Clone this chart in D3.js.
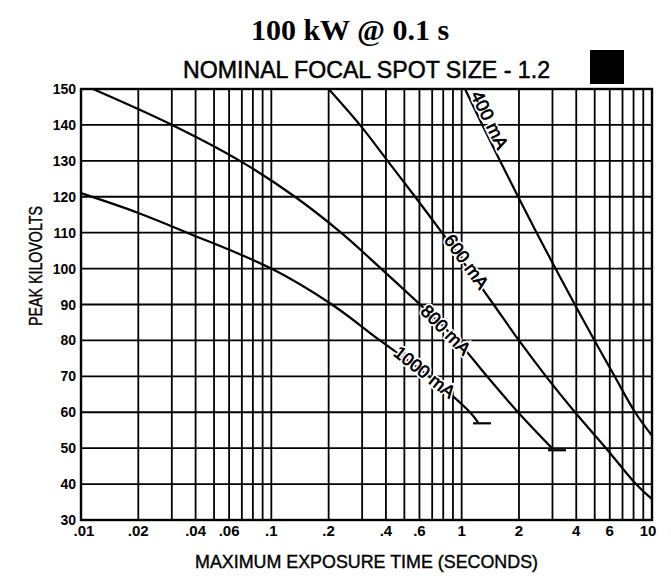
<!DOCTYPE html>
<html>
<head>
<meta charset="utf-8">
<script src="https://cdnjs.cloudflare.com/ajax/libs/d3/7.8.5/d3.min.js"></script>
<style>
  body { margin: 0; background: #fff; }
  svg { display: block; }
</style>
</head>
<body>
<div id="container"></div>
<script>
// ******* Values *******
var yTicks = [30, 40, 50, 60, 70, 80, 90, 100, 110, 120, 130, 140, 150];
var xTickValues = [0.01, 0.02, 0.04, 0.06, 0.1, 0.2, 0.4, 0.6, 1, 2, 4, 6, 10];
var xTickLabels = [".01", ".02", ".04", ".06", ".1", ".2", ".4", ".6", "1", "2", "4", "6", "10"];

var curveNames = ["400 mA", "600 mA", "800 mA", "1000 mA"];

// exposure time (s) and peak kV along each curve
var time400 = [1.041, 1.284, 1.59, 1.98, 2.476, 3.112, 3.93, 4.988, 6.361, 8.152, 10];
var kv400   = [150, 140, 130, 120, 110, 100, 90, 80, 70, 60, 53.5];
var time600 = [0.2, 0.292, 0.408, 0.569, 0.788, 1.08, 1.471, 2.0, 2.774, 3.94, 5.733, 8.24, 10];
var kv600   = [150, 140, 130, 120, 110, 100, 90, 80, 70, 60, 50, 40, 35.8];
var time800 = [0.01156, 0.0301, 0.0684, 0.1331, 0.2323, 0.377, 0.604, 0.945, 1.359, 1.977, 3.02];
var kv800   = [150, 140, 130, 120, 110, 100, 90, 80, 70, 60, 49.7];
var time1000 = [0.01, 0.02, 0.0361, 0.1, 0.208, 0.372, 0.674, 1.106, 1.218];
var kv1000   = [121, 115.5, 110, 100, 90, 80, 70, 60, 57.2];

var labelKv = [140.3, 101.5, 83, 71];        // where each curve label sits
var endMarker = [false, false, true, true];   // short bar at curve end

var title = "100 kW @ 0.1 s";
var subtitle = "NOMINAL FOCAL SPOT SIZE - 1.2";
var yTitle = "PEAK KILOVOLTS";
var xTitle = "MAXIMUM EXPOSURE TIME (SECONDS)";

// ******* Layout *******
var width = 671, height = 576;
var plotLeft = 81, plotRight = 652, plotTop = 89, plotBottom = 520;
var sans = "'Liberation Sans', Arial, Helvetica, sans-serif";

var svg = d3.select("#container").append("svg")
  .attr("width", width)
  .attr("height", height)
  .style("background", "#fff");

var x = d3.scaleLog().domain([0.01, 10]).range([plotLeft, plotRight]);
var y = d3.scaleLinear().domain([30, 150]).range([plotBottom, plotTop]);

// ******* Grid *******
var grid = svg.append("g").attr("stroke", "#000").attr("stroke-width", 1.8);

grid.selectAll(".vgrid")
  .data(x.ticks())
  .enter().append("line")
  .attr("class", "vgrid")
  .attr("x1", function(d) { return x(d); })
  .attr("x2", function(d) { return x(d); })
  .attr("y1", plotTop)
  .attr("y2", plotBottom);

grid.selectAll(".hgrid")
  .data(yTicks)
  .enter().append("line")
  .attr("class", "hgrid")
  .attr("x1", plotLeft)
  .attr("x2", plotRight)
  .attr("y1", function(d) { return y(d); })
  .attr("y2", function(d) { return y(d); });

svg.append("rect")
  .attr("x", plotLeft).attr("y", plotTop)
  .attr("width", plotRight - plotLeft).attr("height", plotBottom - plotTop)
  .attr("fill", "none").attr("stroke", "#000").attr("stroke-width", 2.4);

// ******* Tick labels *******
svg.selectAll(".ylab")
  .data(yTicks)
  .enter().append("text")
  .attr("class", "ylab")
  .attr("x", plotLeft - 5)
  .attr("y", function(d) { return y(d) + 5; })
  .attr("text-anchor", "end")
  .style("font-family", sans)
  .style("font-weight", "bold")
  .style("font-size", "14px")
  .text(function(d) { return d; });

svg.selectAll(".xlab")
  .data(xTickValues)
  .enter().append("text")
  .attr("class", "xlab")
  .attr("x", function(d, i) {
    if (i == 0) return x(d) + 3;
    if (i == xTickValues.length - 1) return x(d) - 4;
    return x(d);
  })
  .attr("y", plotBottom + 16)
  .attr("text-anchor", "middle")
  .style("font-family", sans)
  .style("font-weight", "bold")
  .style("font-size", "15px")
  .text(function(d, i) { return xTickLabels[i]; });

// ******* Curves *******
var series = [
  {name: curveNames[0], t: time400, kv: kv400},
  {name: curveNames[1], t: time600, kv: kv600},
  {name: curveNames[2], t: time800, kv: kv800},
  {name: curveNames[3], t: time1000, kv: kv1000}
];

var line = d3.line()
  .x(function(d) { return x(d[0]); })
  .y(function(d) { return y(d[1]); })
  .curve(d3.curveCatmullRom.alpha(0.5));

series.forEach(function(s, i) {
  var pts = s.t.map(function(t, j) { return [t, s.kv[j]]; });
  svg.append("path")
    .attr("d", line(pts))
    .attr("fill", "none")
    .attr("stroke", "#000")
    .attr("stroke-width", 2.2);

  if (endMarker[i]) { // short horizontal stop bar
    var tEnd = s.t[s.t.length - 1], kEnd = s.kv[s.kv.length - 1];
    svg.append("line")
      .attr("x1", x(tEnd) - 5).attr("x2", x(tEnd) + 13)
      .attr("y1", y(kEnd) + 1).attr("y2", y(kEnd) + 1)
      .attr("stroke", "#000").attr("stroke-width", 2.2);
  }
});

// time on a curve at a given kV (interpolated in log time)
function timeAtKv(s, kv) {
  for (var j = 0; j < s.kv.length - 1; j++) {
    if (s.kv[j] >= kv && kv >= s.kv[j + 1]) {
      var f = (s.kv[j] - kv) / (s.kv[j] - s.kv[j + 1]);
      var lt = Math.log10(s.t[j]) + f * (Math.log10(s.t[j + 1]) - Math.log10(s.t[j]));
      return Math.pow(10, lt);
    }
  }
  return s.t[0];
}

var labelOffset = [9, 3, 0, 1];
series.forEach(function(s, i) {
  var kv = labelKv[i];
  var px = x(timeAtKv(s, kv)), py = y(kv);
  var dx = x(timeAtKv(s, kv - 5)) - x(timeAtKv(s, kv + 5));
  var dy = y(kv - 5) - y(kv + 5);
  var a = Math.atan2(dy, dx);
  var ox = px + labelOffset[i] * Math.sin(a), oy = py - labelOffset[i] * Math.cos(a);
  svg.append("text")
    .attr("transform", "translate(" + ox + "," + oy + ")rotate(" + (a * 180 / Math.PI) + ")")
    .attr("text-anchor", "middle")
    .attr("dy", "0.36em")
    .style("font-family", sans)
    .style("font-size", "18px")
    .attr("fill", "#000")
    .attr("stroke", "#fff")
    .attr("stroke-width", 4)
    .attr("paint-order", "stroke")
    .text(s.name);
  // thicken the glyphs a little, like the printed original
  svg.append("text")
    .attr("transform", "translate(" + ox + "," + oy + ")rotate(" + (a * 180 / Math.PI) + ")")
    .attr("text-anchor", "middle")
    .attr("dy", "0.36em")
    .style("font-family", sans)
    .style("font-size", "18px")
    .attr("fill", "#000")
    .attr("stroke", "#000")
    .attr("stroke-width", 0.5)
    .text(s.name);
});

// ******* Titles *******
svg.append("text")
  .attr("x", 350).attr("y", 40)
  .attr("text-anchor", "middle")
  .style("font-family", "'Liberation Serif', 'Times New Roman', serif")
  .style("font-weight", "bold")
  .style("font-size", "30px")
  .text(title);

svg.append("text")
  .attr("x", (plotLeft + plotRight) / 2).attr("y", 78)
  .attr("text-anchor", "middle")
  .attr("textLength", 367)
  .attr("lengthAdjust", "spacingAndGlyphs")
  .attr("stroke", "#000")
  .attr("stroke-width", 0.5)
  .style("font-family", sans)
  .style("font-size", "24px")
  .text(subtitle);

svg.append("rect") // solid block top right
  .attr("x", 590).attr("y", 50)
  .attr("width", 34).attr("height", 34)
  .attr("fill", "#000");

svg.append("text")
  .attr("transform", "translate(42," + 266 + ")rotate(-90)")
  .attr("text-anchor", "middle")
  .attr("textLength", 120)
  .attr("lengthAdjust", "spacingAndGlyphs")
  .attr("stroke", "#000")
  .attr("stroke-width", 0.4)
  .style("font-family", sans)
  .style("font-size", "18px")
  .text(yTitle);

svg.append("text")
  .attr("x", (plotLeft + plotRight) / 2).attr("y", 568)
  .attr("text-anchor", "middle")
  .attr("textLength", 343)
  .attr("lengthAdjust", "spacingAndGlyphs")
  .attr("stroke", "#000")
  .attr("stroke-width", 0.4)
  .style("font-family", sans)
  .style("font-size", "19px")
  .text(xTitle);
</script>
</body>
</html>
